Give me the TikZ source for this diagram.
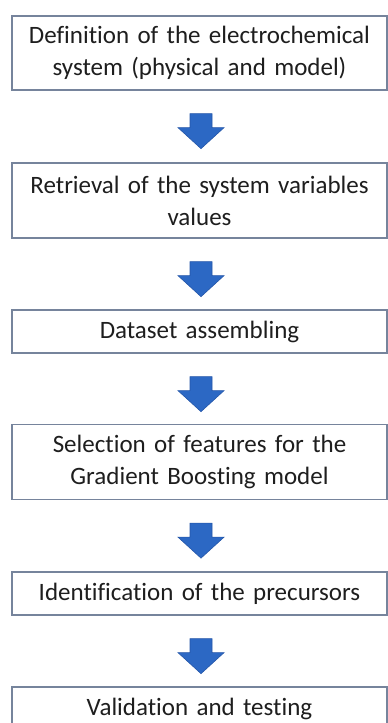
\documentclass[tikz,border=0pt]{standalone}
\usepackage{fontspec}
\setmainfont{Carlito}[Ligatures=CommonOff]
\begin{document}
\begin{tikzpicture}[x=1pt,y=-1pt,
  stepbox/.style={draw=boxline, line width=1.3pt, fill=white, rectangle,
    minimum width=375pt, text width=370pt, align=center, inner sep=0pt,
    font=\fontsize{25}{32}\selectfont, text=textcol},
  flowarrow/.style={fill=arrowblue, draw=arrowedge, line width=0.6pt, line join=miter}
]
\definecolor{boxline}{RGB}{118,132,156}
\definecolor{arrowblue}{RGB}{44,104,196}
\definecolor{arrowedge}{RGB}{36,86,168}
\definecolor{textcol}{RGB}{30,30,30}
\useasboundingbox (0,0) rectangle (388,723);
\clip (0,0) rectangle (388,723);

\node[stepbox, minimum height=74pt] (b1) at (199.5,53)
  {Definition of the electrochemical\\system (physical and model)};
\node[stepbox, minimum height=75pt] (b2) at (199.5,200.5)
  {Retrieval of the system variables\\values};
\node[stepbox, minimum height=43pt] (b3) at (199.5,331.5)
  {Dataset assembling};
\node[stepbox, minimum height=75pt] (b4) at (199.5,462)
  {Selection of features for the\\Gradient Boosting model};
\node[stepbox, minimum height=43pt] (b5) at (199.5,593.5)
  {Identification of the precursors};
\node[stepbox, minimum height=43pt] (b6) at (199.5,708.5)
  {Validation and testing};

% block arrows between consecutive steps
\foreach \a in {b1,b2,b3,b4,b5}{
  \draw[flowarrow] ([xshift=1.5pt,yshift=-23pt]\a.south) ++(-11,0) -- ++(22,0) -- ++(0,14)
     -- ++(12,0) -- ++(-23,21) -- ++(-23,-21) -- ++(12,0) -- cycle;
}
\end{tikzpicture}
\end{document}
